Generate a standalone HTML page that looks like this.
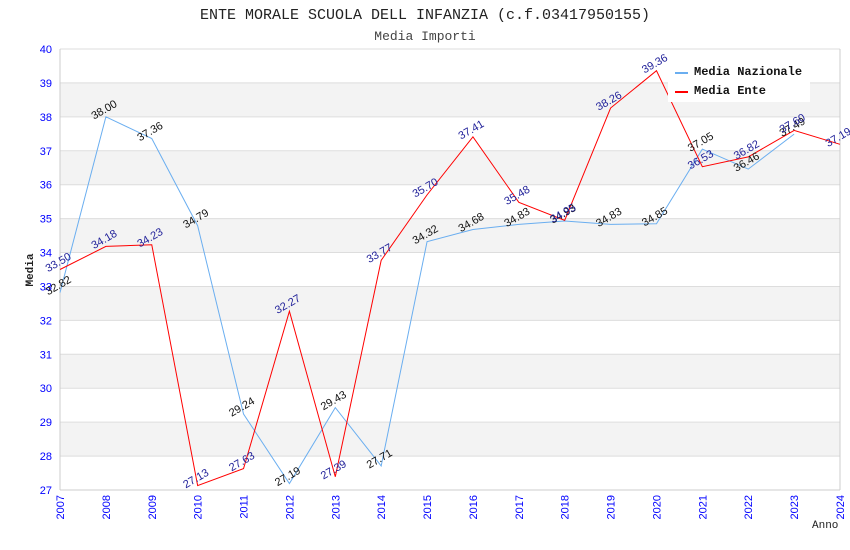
<!DOCTYPE html>
<html><head><meta charset="utf-8"><style>
body{margin:0;background:#fff}
svg{display:block}
</style></head><body>
<svg id="c" width="850" height="550" xmlns="http://www.w3.org/2000/svg">
<text x="425" y="19" text-anchor="middle" font-family="Liberation Mono, monospace" font-size="15" fill="#222">ENTE MORALE SCUOLA DELL INFANZIA (c.f.03417950155)</text>
<text x="425" y="40" text-anchor="middle" font-family="Liberation Mono, monospace" font-size="13" fill="#444">Media Importi</text>
<g id="grid"></g><g id="axes"></g><g id="series"></g><g id="labels"></g>
<g>
<rect x="668" y="58" width="142" height="44" fill="#fff"/>
<line x1="675" y1="73" x2="688" y2="73" stroke="#6aaef0" stroke-width="2"/>
<text x="694" y="75" font-family="Liberation Mono, monospace" font-size="12" font-weight="bold" fill="#111">Media Nazionale</text>
<line x1="675" y1="92" x2="688" y2="92" stroke="#f00" stroke-width="2"/>
<text x="694" y="94" font-family="Liberation Mono, monospace" font-size="12" font-weight="bold" fill="#111">Media Ente</text>
</g>
<text x="33" y="270" transform="rotate(-90 33 270)" text-anchor="middle" font-family="Liberation Mono, monospace" font-size="11" font-weight="bold" fill="#222">Media</text>
<text x="812" y="528" font-family="Liberation Mono, monospace" font-size="11" fill="#222">Anno</text>
</svg>
<script>
const years=[2007,2008,2009,2010,2011,2012,2013,2014,2015,2016,2017,2018,2019,2020,2021,2022,2023,2024];
const nazionale=[32.82,38.00,37.36,34.79,29.24,27.19,29.43,27.71,34.32,34.68,34.83,34.93,34.83,34.85,37.05,36.46,37.49,null];
const ente=[33.50,34.18,34.23,27.13,27.63,32.27,27.39,33.77,35.70,37.41,35.48,34.95,38.26,39.36,36.53,36.82,37.60,37.19];
const yTicks=[27,28,29,30,31,32,33,34,35,36,37,38,39,40];
const NS="http://www.w3.org/2000/svg";
const X0=60,X1=840,Y0=490,Y1=49;
const xs=y=>X0+(y-2007)/(2024-2007)*(X1-X0);
const ys=v=>Y0-(v-27)/(40-27)*(Y0-Y1);
function mk(t,a,p){const e=document.createElementNS(NS,t);for(const k in a)e.setAttribute(k,a[k]);p.appendChild(e);return e;}
const grid=document.getElementById('grid'),axes=document.getElementById('axes'),ser=document.getElementById('series'),lab=document.getElementById('labels');
for(let i=0;i<yTicks.length-1;i++){
 const r=mk('rect',{x:X0,y:ys(yTicks[i+1]),width:X1-X0,height:ys(yTicks[i])-ys(yTicks[i+1]),fill:(i%2==1)?'#f3f3f3':'#fff'},grid);
 
 
}
yTicks.forEach(v=>{
 const l=mk('line',{x1:X0,x2:X1,y1:ys(v),y2:ys(v),stroke:'#ddd'},grid);
 
 
 const t=mk('text',{x:X0-8,y:ys(v)+4,'text-anchor':'end','font-family':'Liberation Sans, sans-serif','font-size':11,fill:'#00f'},axes);
 t.textContent=v;
 
 
});
mk('line',{x1:X0,x2:X0,y1:Y1,y2:Y0,stroke:'#ccc'},axes);
mk('line',{x1:X1,x2:X1,y1:Y1,y2:Y0,stroke:'#ccc'},axes);
mk('line',{x1:X0,x2:X1,y1:Y0,y2:Y0,stroke:'#ccc'},axes);
years.forEach(y=>{
 const x=xs(y);
 const t=mk('text',{x:x+4,y:Y0+5,transform:`rotate(-90 ${x+4} ${Y0+5})`,'text-anchor':'end','font-family':'Liberation Sans, sans-serif','font-size':11,fill:'#00f'},axes);
 t.textContent=y;
 
 
});
function series(vals,color,lc,name){
 const pts=[];vals.forEach((v,i)=>{if(v!=null)pts.push([xs(years[i]),ys(v)]);});
 const p=mk('polyline',{points:pts.map(p=>p.join(',')).join(' '),fill:'none',stroke:color,'stroke-width':1},ser);
 
 
 vals.forEach((v,i)=>{if(v==null)return;
  const x=xs(years[i]),y=ys(v)-4;
  const t=mk('text',{x:x,y:y,transform:`rotate(-30 ${x} ${y})`,'text-anchor':'middle','font-family':'Liberation Sans, sans-serif','font-size':11,fill:lc},lab);
  t.textContent=v.toFixed(2);
  
  
 });
}
series(nazionale,'#6aaef0','#111','nazionale');
series(ente,'#f00','#22229a','ente');
</script>
</body></html>
